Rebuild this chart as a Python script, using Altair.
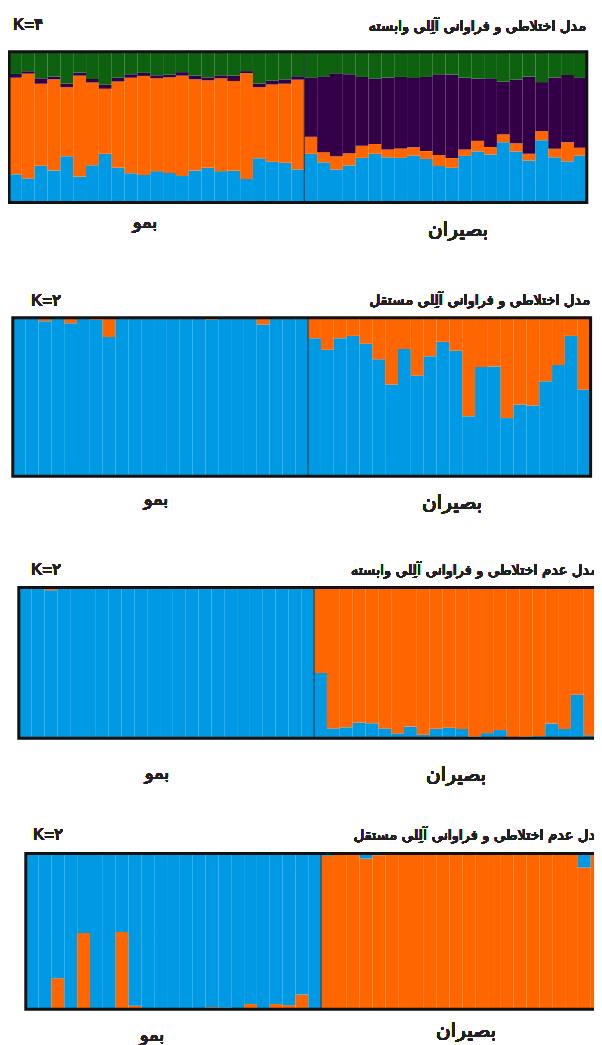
import altair as alt
import pandas as pd

# ---------------- data ----------------
N_BEMO = 23
N_BASIRAN = 22
N_ALL = N_BEMO + N_BASIRAN

k_labels = ["K=۴", "K=۲", "K=۲", "K=۲"]
titles = [
    "مدل اختلاطی و فراوانی آلِلی وابسته",
    "مدل اختلاطی و فراوانی آلِلی مستقل",
    "مدل عدم اختلاطی و فراوانی آلِلی وابسته",
    "مدل عدم اختلاطی و فراوانی آلِلی مستقل",
]
pop_labels = ["بمو", "بصیران"]

# Panel 1 (K=4) : blue (bottom), orange, purple, green (top)
p1_blue = [0.187, 0.160, 0.244, 0.212, 0.307, 0.172, 0.248, 0.323, 0.230, 0.194, 0.183, 0.208,
           0.196, 0.176, 0.212, 0.230, 0.208, 0.210, 0.156, 0.293, 0.271, 0.264, 0.219,
           0.323, 0.266, 0.219, 0.246, 0.296, 0.323, 0.300, 0.296, 0.312, 0.289, 0.242,
           0.230, 0.309, 0.339, 0.318, 0.400, 0.339, 0.278, 0.413, 0.300, 0.273, 0.312]
p1_orange = [0.641, 0.695, 0.544, 0.605, 0.458, 0.670, 0.549, 0.431, 0.573, 0.634, 0.657, 0.616,
             0.634, 0.666, 0.605, 0.580, 0.616, 0.596, 0.702, 0.472, 0.512, 0.524, 0.596,
             0.113, 0.068, 0.088, 0.081, 0.081, 0.065, 0.052, 0.063, 0.054, 0.052, 0.074,
             0.065, 0.043, 0.070, 0.050, 0.052, 0.054, 0.045, 0.061, 0.056, 0.126, 0.052]
p1_purple = [0.025, 0.016, 0.036, 0.018, 0.025, 0.020, 0.023, 0.027, 0.025, 0.023, 0.020, 0.020,
             0.018, 0.023, 0.025, 0.020, 0.020, 0.036, 0.014, 0.025, 0.025, 0.029, 0.023,
             0.391, 0.503, 0.551, 0.524, 0.456, 0.433, 0.476, 0.474, 0.460, 0.492, 0.535,
             0.555, 0.476, 0.413, 0.456, 0.350, 0.424, 0.512, 0.325, 0.474, 0.447, 0.463]
p1_green = [0.147, 0.129, 0.176, 0.165, 0.210, 0.138, 0.181, 0.219, 0.172, 0.149, 0.140, 0.156,
            0.151, 0.135, 0.158, 0.169, 0.156, 0.158, 0.129, 0.210, 0.192, 0.183, 0.163,
            0.174, 0.163, 0.142, 0.149, 0.167, 0.178, 0.172, 0.167, 0.174, 0.167, 0.149,
            0.149, 0.172, 0.178, 0.176, 0.199, 0.183, 0.165, 0.201, 0.169, 0.153, 0.174]

# Panel 2 (K=2, admixture / independent): blue bottom, orange top
p2_blue = [0.995, 0.997, 0.979, 0.996, 0.966, 0.996, 0.987, 0.878, 0.996, 0.996, 0.996, 0.994,
           0.996, 0.994, 0.996, 0.989, 0.996, 0.996, 0.996, 0.957, 0.992, 0.992, 0.992,
           0.871, 0.798, 0.871, 0.886, 0.837, 0.738, 0.579, 0.803, 0.635, 0.758, 0.848,
           0.792, 0.378, 0.689, 0.693, 0.367, 0.453, 0.446, 0.599, 0.702, 0.886, 0.545]
p2_orange = [0.005, 0.003, 0.021, 0.004, 0.034, 0.004, 0.013, 0.122, 0.004, 0.004, 0.004, 0.006,
             0.004, 0.006, 0.004, 0.011, 0.004, 0.004, 0.004, 0.043, 0.008, 0.008, 0.008,
             0.129, 0.202, 0.129, 0.114, 0.163, 0.262, 0.421, 0.197, 0.365, 0.242, 0.152,
             0.208, 0.622, 0.311, 0.307, 0.633, 0.547, 0.554, 0.401, 0.298, 0.114, 0.455]

# Panel 3 (K=2, no admixture / correlated): blue bottom, orange top
p3_blue = [1.000, 1.000, 0.982, 1.000, 0.994, 1.000, 1.000, 0.991, 1.000, 1.000, 1.000, 1.000,
           1.000, 1.000, 1.000, 1.000, 1.000, 0.994, 1.000, 1.000, 1.000, 1.000, 1.000,
           0.432, 0.065, 0.072, 0.104, 0.099, 0.065, 0.032, 0.077, 0.023, 0.063, 0.070,
           0.061, 0.011, 0.034, 0.054, 0.005, 0.011, 0.014, 0.097, 0.061, 0.288, 0.020]
p3_orange = [0.000, 0.000, 0.018, 0.000, 0.006, 0.000, 0.000, 0.009, 0.000, 0.000, 0.000, 0.000,
             0.000, 0.000, 0.000, 0.000, 0.000, 0.006, 0.000, 0.000, 0.000, 0.000, 0.000,
             0.568, 0.935, 0.928, 0.896, 0.901, 0.935, 0.968, 0.923, 0.977, 0.937, 0.930,
             0.939, 0.989, 0.966, 0.946, 0.995, 0.989, 0.986, 0.903, 0.939, 0.712, 0.980]

# Panel 4 (K=2, no admixture / independent): orange bottom, blue top
p4_orange = [0.000, 0.001, 0.199, 0.002, 0.489, 0.000, 0.007, 0.496, 0.022, 0.005, 0.000, 0.000,
             0.000, 0.000, 0.013, 0.009, 0.006, 0.033, 0.001, 0.033, 0.026, 0.094, 0.007,
             0.985, 0.998, 1.000, 0.967, 0.989, 1.000, 1.000, 1.000, 1.000, 1.000, 1.000,
             1.000, 1.000, 1.000, 1.000, 1.000, 1.000, 1.000, 1.000, 1.000, 0.910, 1.000]
p4_blue = [1.000, 0.999, 0.801, 0.998, 0.511, 1.000, 0.993, 0.504, 0.978, 0.995, 1.000, 1.000,
           1.000, 1.000, 0.987, 0.991, 0.994, 0.967, 0.999, 0.967, 0.974, 0.906, 0.993,
           0.015, 0.002, 0.000, 0.033, 0.011, 0.000, 0.000, 0.000, 0.000, 0.000, 0.000,
           0.000, 0.000, 0.000, 0.000, 0.000, 0.000, 0.000, 0.000, 0.000, 0.090, 0.000]

cluster_names = ["blue", "orange", "purple", "green"]
cluster_colors = ["#0099e3", "#ff6600", "#330048", "#0e620f"]

# ---------------- layout (page pixels) ----------------
BAR_W = 12.84
W = 586
# (frame left, frame top, frame bottom, band top, band height)
layouts = [
    (9.0, 51.8, 202.5, 8, 254),
    (12.8, 317.8, 476.2, 262, 273),
    (18.8, 587.5, 738.2, 535, 265),
    (25.8, 853.5, 1009.2, 800, 260),
]
# (K x-left, K y, title x-right, title y, bemo x, bemo y, basiran x, basiran y)
text_pos = [
    (13, 25, 586, 27, 145, 223, 458, 230),
    (31, 301, 590, 301, 156, 500, 452, 503),
    (31, 570, 598, 571, 157, 774, 456, 775),
    (33, 835, 604, 836, 152, 1036, 466, 1031),
]

panels = [
    [("blue", p1_blue), ("orange", p1_orange), ("purple", p1_purple), ("green", p1_green)],
    [("blue", p2_blue), ("orange", p2_orange)],
    [("blue", p3_blue), ("orange", p3_orange)],
    [("orange", p4_orange), ("blue", p4_blue)],
]

color_scale = alt.Scale(domain=cluster_names, range=cluster_colors)
FONT_K = "Liberation Sans"
FONT_FA = "DejaVu Sans"


def stack_df(series):
    rows = []
    for i in range(N_ALL):
        base = 0.0
        for name, vals in series:
            v = vals[i]
            rows.append({"i": i, "i1": i + 1, "cl": name, "y0": base, "y1": base + v})
            base += v
    return pd.DataFrame(rows)


def make_panel(k):
    xL, yT, yB, Tb, H = layouts[k]
    d0 = -(xL - 8) / BAR_W
    d1 = d0 + W / BAR_W
    unit = yB - yT
    e1 = 1 + (yT - Tb) / unit
    e0 = -((Tb + H) - yB) / unit
    xs = alt.Scale(domain=[d0, d1], nice=False, zero=False)
    ys = alt.Scale(domain=[e0, e1], nice=False, zero=False)

    df = stack_df(panels[k])
    bars = alt.Chart(df).mark_rect(clip=True).encode(
        x=alt.X("i:Q", scale=xs, axis=None),
        x2="i1:Q",
        y=alt.Y("y0:Q", scale=ys, axis=None),
        y2="y1:Q",
        color=alt.Color("cl:N", scale=color_scale, legend=None),
    )
    div = alt.Chart(pd.DataFrame({"x": [N_BEMO], "a": [0.0], "b": [1.0]})).mark_rule(
        color="#1d3344", strokeWidth=1.2, opacity=0.85
    ).encode(x=alt.X("x:Q", scale=xs), y=alt.Y("a:Q", scale=ys), y2="b:Q")
    frame = alt.Chart(pd.DataFrame({"a": [0], "b": [N_ALL], "c": [0.0], "d": [1.0]})).mark_rect(
        fillOpacity=0, stroke="#111111", strokeWidth=3, clip=True
    ).encode(x=alt.X("a:Q", scale=xs), x2="b:Q", y=alt.Y("c:Q", scale=ys), y2="d:Q")

    kx, ky, tx, ty, bx, by, sx, sy = text_pos[k]
    common = dict(baseline="middle", fontWeight="normal", color="#222222", clip=True)
    t_k = alt.Chart(df).mark_text(align="left", fontSize=17, font=FONT_K, **common).encode(
        x=alt.value(kx - 8), y=alt.value(ky - Tb), text=alt.value(k_labels[k]))
    t_title = alt.Chart(df).mark_text(align="right", fontSize=14.5, font=FONT_FA, **common).encode(
        x=alt.value(tx - 8), y=alt.value(ty - Tb), text=alt.value(titles[k]))
    t_b = alt.Chart(df).mark_text(align="center", fontSize=18, font=FONT_FA, **common).encode(
        x=alt.value(bx - 8), y=alt.value(by - Tb), text=alt.value(pop_labels[0]))
    t_s = alt.Chart(df).mark_text(align="center", fontSize=20, font=FONT_FA, **common).encode(
        x=alt.value(sx - 8), y=alt.value(sy - Tb), text=alt.value(pop_labels[1]))

    return alt.layer(bars, div, frame, t_k, t_title, t_b, t_s).properties(width=W, height=H)


chart = alt.vconcat(*[make_panel(k) for k in range(4)], spacing=0).properties(
    padding=0, background="white"
).configure_view(strokeWidth=0)

chart.save("out.html", embed_options={"renderer": "svg", "actions": False})
